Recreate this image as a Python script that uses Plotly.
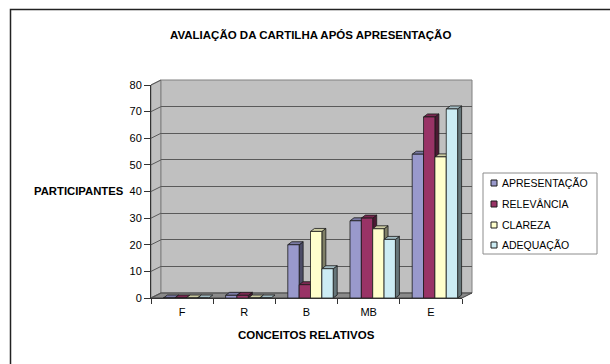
import plotly.graph_objects as go

# ---- data -------------------------------------------------------------
CATEGORIES = ["F", "R", "B", "MB", "E"]
SERIES = ["APRESENTAÇÃO", "RELEVÂNCIA", "CLAREZA", "ADEQUAÇÃO"]
APRESENTACAO = [0, 1, 20, 29, 54]
RELEVANCIA = [0, 1, 5, 30, 68]
CLAREZA = [0, 0, 25, 26, 53]
ADEQUACAO = [0, 0, 11, 22, 71]
Y_TICKS = [0, 10, 20, 30, 40, 50, 60, 70, 80]

TITLE = "AVALIAÇÃO DA CARTILHA APÓS APRESENTAÇÃO"
X_TITLE = "CONCEITOS RELATIVOS"
Y_TITLE = "PARTICIPANTES"

# ---- style ------------------------------------------------------------
COLORS = ["#9999CC", "#993366", "#FFFFCC", "#CCECF4"]
FONT = "Liberation Sans, Arial, sans-serif"
W, H = 610, 364

# front plane of the plot box (pixels)
FX0, FX1 = 151, 462
FY_TOP, FY_BOT = 85, 298
WALL_DX, WALL_DY = 10, 5       # depth of the back wall
BAR_SHIFT = 4                  # bars sit a little behind the front plane
BAR_DX_PX, BAR_DY_PX = 4, 3    # bar depth
BARGAP = 0.27

Y_MAX = Y_TICKS[-1]
N_CAT = len(CATEGORIES)
N_SER = len(SERIES)


def px(x):
    return x / W


def py(y):
    return 1 - y / H


def shade(hex_color, k):
    h = hex_color.lstrip("#")
    r, g, b = (int(h[i:i + 2], 16) for i in (0, 2, 4))
    return "rgb(%d,%d,%d)" % (r * k, g * k, b * k)


values = [APRESENTACAO, RELEVANCIA, CLAREZA, ADEQUACAO]
positions = list(range(N_CAT))

fig = go.Figure()

# invisible traces so the category axis and the back-wall axes get drawn
fig.add_trace(go.Scatter(x=CATEGORIES, y=[0] * N_CAT, xaxis="x", yaxis="y",
                         mode="markers", marker=dict(opacity=0),
                         showlegend=False, hoverinfo="skip"))
fig.add_trace(go.Scatter(x=[], y=[], xaxis="x2", yaxis="y2",
                         showlegend=False, hoverinfo="skip"))

for name, vals, col in zip(SERIES, values, COLORS):
    fig.add_trace(go.Bar(
        x=positions, y=vals, name=name, xaxis="x3", yaxis="y",
        marker=dict(color=col, line=dict(color="#1a1a1a", width=0.8)),
        showlegend=False,
    ))

# bar depth expressed in axis units
unit_x = (N_CAT) / (FX1 - FX0)
unit_y = Y_MAX / (FY_BOT - FY_TOP)
DX = BAR_DX_PX * unit_x
DY = BAR_DY_PX * unit_y
bw = (1 - BARGAP) / N_SER

shapes = []


def poly(pts):
    return "M " + " L ".join("%f,%f" % (px(a), py(b)) for a, b in pts) + " Z"


# side wall, back wall and floor
shapes.append(dict(type="path", xref="paper", yref="paper", layer="below",
                   path=poly([(FX0, FY_TOP), (FX0 + WALL_DX, FY_TOP - WALL_DY),
                              (FX0 + WALL_DX, FY_BOT - WALL_DY), (FX0, FY_BOT)]),
                   fillcolor="#C0C0C0", line=dict(color="#808080", width=1)))
shapes.append(dict(type="rect", xref="paper", yref="paper", layer="below",
                   x0=px(FX0 + WALL_DX), x1=px(FX1 + WALL_DX),
                   y0=py(FY_BOT - WALL_DY), y1=py(FY_TOP - WALL_DY),
                   fillcolor="#C0C0C0", line=dict(color="#808080", width=1)))
shapes.append(dict(type="path", xref="paper", yref="paper", layer="below",
                   path=poly([(FX0, FY_BOT), (FX0 + WALL_DX, FY_BOT - WALL_DY),
                              (FX1 + WALL_DX, FY_BOT - WALL_DY), (FX1, FY_BOT)]),
                   fillcolor="#8A8A8A", line=dict(color="#404040", width=1)))
# gridlines running across the side wall
for t in Y_TICKS:
    yf = FY_BOT - t / unit_y
    shapes.append(dict(type="line", xref="paper", yref="paper", layer="below",
                       x0=px(FX0), y0=py(yf), x1=px(FX0 + WALL_DX), y1=py(yf - WALL_DY),
                       line=dict(color="#5a5a5a", width=1)))

# tops and right-hand sides of the bars
for i in range(N_CAT):
    for j in range(N_SER):
        v = values[j][i]
        left = positions[i] + (j - N_SER / 2) * bw
        right = left + bw
        col = COLORS[j]
        if v > 0:
            shapes.append(dict(
                type="path", xref="x3", yref="y", layer="between",
                path="M %f,0 L %f,%f L %f,%f L %f,%f Z" % (
                    right, right, v, right + DX, v + DY, right + DX, DY),
                fillcolor=shade(col, 0.5), line=dict(color="#1a1a1a", width=0.8)))
        shapes.append(dict(
            type="path", xref="x3", yref="y", layer="between",
            path="M %f,%f L %f,%f L %f,%f L %f,%f Z" % (
                left, v, right, v, right + DX, v + DY, left + DX, v + DY),
            fillcolor=shade(col, 0.8), line=dict(color="#1a1a1a", width=0.8)))

# legend box
LEG_X0, LEG_X1, LEG_Y0, LEG_Y1 = 483, 597, 173, 254
LEG_ROWS = [183, 204, 225, 245]
shapes.append(dict(type="rect", xref="paper", yref="paper", layer="above",
                   x0=px(LEG_X0), x1=px(LEG_X1), y0=py(LEG_Y1), y1=py(LEG_Y0),
                   fillcolor="white", line=dict(color="#8c8c8c", width=1)))
for col, yr in zip(COLORS, LEG_ROWS):
    shapes.append(dict(type="rect", xref="paper", yref="paper", layer="above",
                       x0=px(491), x1=px(497), y0=py(yr + 3), y1=py(yr - 3),
                       fillcolor=col, line=dict(color="#1a1a1a", width=1)))

# chart frame
shapes.append(dict(type="rect", xref="paper", yref="paper", layer="above",
                   x0=px(10.5), x1=px(640), y0=py(400), y1=py(9.5),
                   line=dict(color="#222222", width=1.5)))

annotations = [
    dict(text=TITLE, x=px(310), y=py(35), xref="paper", yref="paper",
         showarrow=False, xanchor="center", yanchor="middle",
         font=dict(family=FONT, size=11.5, color="black", weight="bold")),
    dict(text=Y_TITLE, x=px(32), y=py(191), xref="paper", yref="paper",
         showarrow=False, xanchor="left", yanchor="middle",
         font=dict(family=FONT, size=11.3, color="black", weight="bold")),
    dict(text=X_TITLE, x=px((FX0 + FX1) / 2), y=py(335), xref="paper", yref="paper",
         showarrow=False, xanchor="center", yanchor="middle",
         font=dict(family=FONT, size=11.5, color="black", weight="bold")),
]
for name, yr in zip(SERIES, LEG_ROWS):
    annotations.append(dict(text=name, x=px(500), y=py(yr), xref="paper", yref="paper",
                            showarrow=False, xanchor="left", yanchor="middle",
                            font=dict(family=FONT, size=10.5, color="black")))

fig.update_layout(
    width=W, height=H,
    margin=dict(l=0, r=0, t=0, b=0, pad=0),
    template="none",
    paper_bgcolor="white",
    plot_bgcolor="rgba(0,0,0,0)",
    font=dict(family=FONT, size=11, color="black"),
    barmode="group", bargap=BARGAP, bargroupgap=0,
    showlegend=False,
    hovermode=False,
    xaxis=dict(type="category", categoryorder="array", categoryarray=CATEGORIES,
               domain=[px(FX0), px(FX1)], anchor="y",
               range=[-0.5, N_CAT - 0.5], tickson="boundaries",
               ticks="outside", ticklen=5, tickcolor="#333333", tickwidth=1,
               ticklabelstandoff=4,
               showline=True, linecolor="#333333", linewidth=1,
               showgrid=False, zeroline=False, automargin=False,
               tickfont=dict(family=FONT, size=11, color="black")),
    yaxis=dict(domain=[py(FY_BOT), py(FY_TOP)], anchor="x", range=[0, Y_MAX],
               tickvals=Y_TICKS, ticks="outside", ticklen=6, tickcolor="#333333",
               tickwidth=1, ticklabelstandoff=0,
               showline=True, linecolor="#333333", linewidth=1,
               showgrid=False, zeroline=False, automargin=False,
               tickfont=dict(family=FONT, size=11, color="black")),
    xaxis2=dict(domain=[px(FX0 + WALL_DX), px(FX1 + WALL_DX)], anchor="y2",
                range=[-0.5, N_CAT - 0.5], showgrid=False, zeroline=False,
                showline=False, showticklabels=False, ticks="", automargin=False),
    yaxis2=dict(domain=[py(FY_BOT - WALL_DY), py(FY_TOP - WALL_DY)], anchor="x2",
                range=[0, Y_MAX], tickvals=Y_TICKS, showgrid=True,
                gridcolor="#5a5a5a", gridwidth=1, zeroline=False, showline=False,
                showticklabels=False, ticks="", automargin=False),
    xaxis3=dict(domain=[px(FX0 + BAR_SHIFT), px(FX1 + BAR_SHIFT)], anchor="y",
                range=[-0.5, N_CAT - 0.5], visible=False, automargin=False),
    shapes=shapes,
    annotations=annotations,
)

fig.write_html("out.html")
